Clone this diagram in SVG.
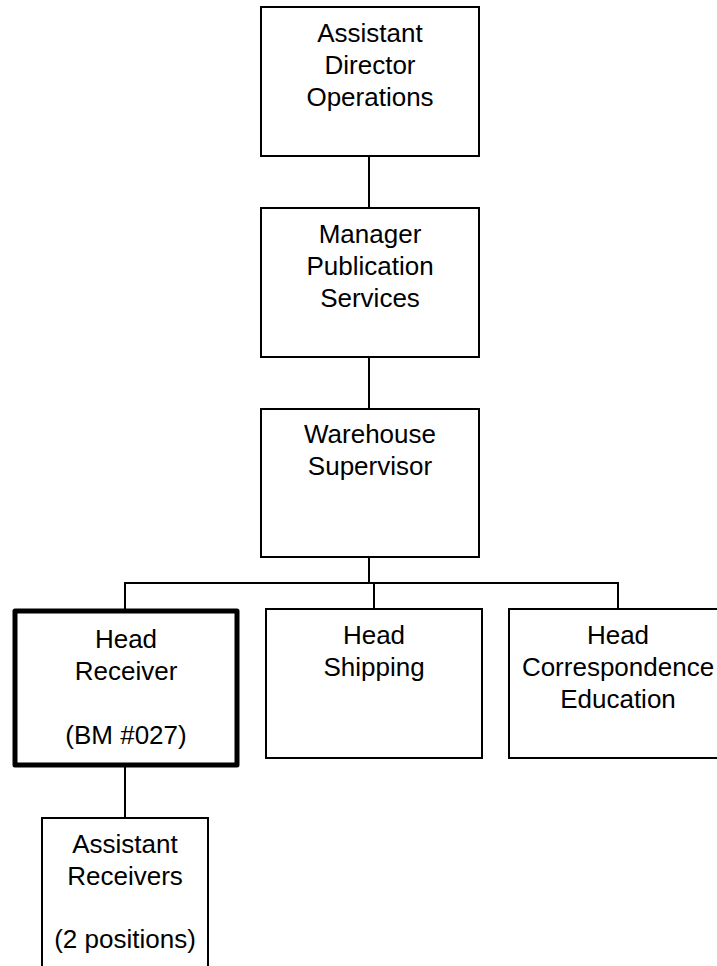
<svg xmlns="http://www.w3.org/2000/svg" width="717" height="966" viewBox="0 0 717 966">
<style>
.box{fill:#fff;stroke:#000;stroke-width:2}
.thick{fill:#fff;stroke:#000;stroke-width:5;stroke-linejoin:round}
.ln{stroke:#000;stroke-width:2;fill:none}
text{font-family:"Liberation Sans",Arial,sans-serif;font-size:26px;fill:#000;text-anchor:middle}
</style>
<rect width="717" height="966" fill="#fff"/>
<g id="connectors">
<line class="ln" x1="369" y1="156" x2="369" y2="208"/>
<line class="ln" x1="369" y1="357" x2="369" y2="409"/>
<line class="ln" x1="369" y1="557" x2="369" y2="583"/>
<polyline class="ln" points="125,609 125,583 618,583 618,609"/>
<line class="ln" x1="374" y1="583" x2="374" y2="609"/>
<line class="ln" x1="125" y1="767" x2="125" y2="818"/>
</g>
<g id="n1">
<rect class="box" x="261" y="7" width="218" height="149"/>
<text x="370" y="42">Assistant</text>
<text x="370" y="74">Director</text>
<text x="370" y="106">Operations</text>
</g>
<g id="n2">
<rect class="box" x="261" y="208" width="218" height="149"/>
<text x="370" y="243">Manager</text>
<text x="370" y="275">Publication</text>
<text x="370" y="307">Services</text>
</g>
<g id="n3">
<rect class="box" x="261" y="409" width="218" height="148"/>
<text x="370" y="443">Warehouse</text>
<text x="370" y="475">Supervisor</text>
</g>
<g id="n4">
<rect class="thick" x="15" y="611" width="222" height="154"/>
<text x="126" y="648">Head</text>
<text x="126" y="680">Receiver</text>
<text x="126" y="744">(BM #027)</text>
</g>
<g id="n5">
<rect class="box" x="266" y="609" width="216" height="149"/>
<text x="374" y="644">Head</text>
<text x="374" y="676">Shipping</text>
</g>
<g id="n6">
<rect class="box" x="509" y="609" width="218" height="149"/>
<text x="618" y="644">Head</text>
<text x="618" y="676">Correspondence</text>
<text x="618" y="708">Education</text>
</g>
<g id="n7">
<rect class="box" x="42" y="818" width="166" height="160"/>
<text x="125" y="853">Assistant</text>
<text x="125" y="885">Receivers</text>
<text x="125" y="948">(2 positions)</text>
</g>
</svg>
